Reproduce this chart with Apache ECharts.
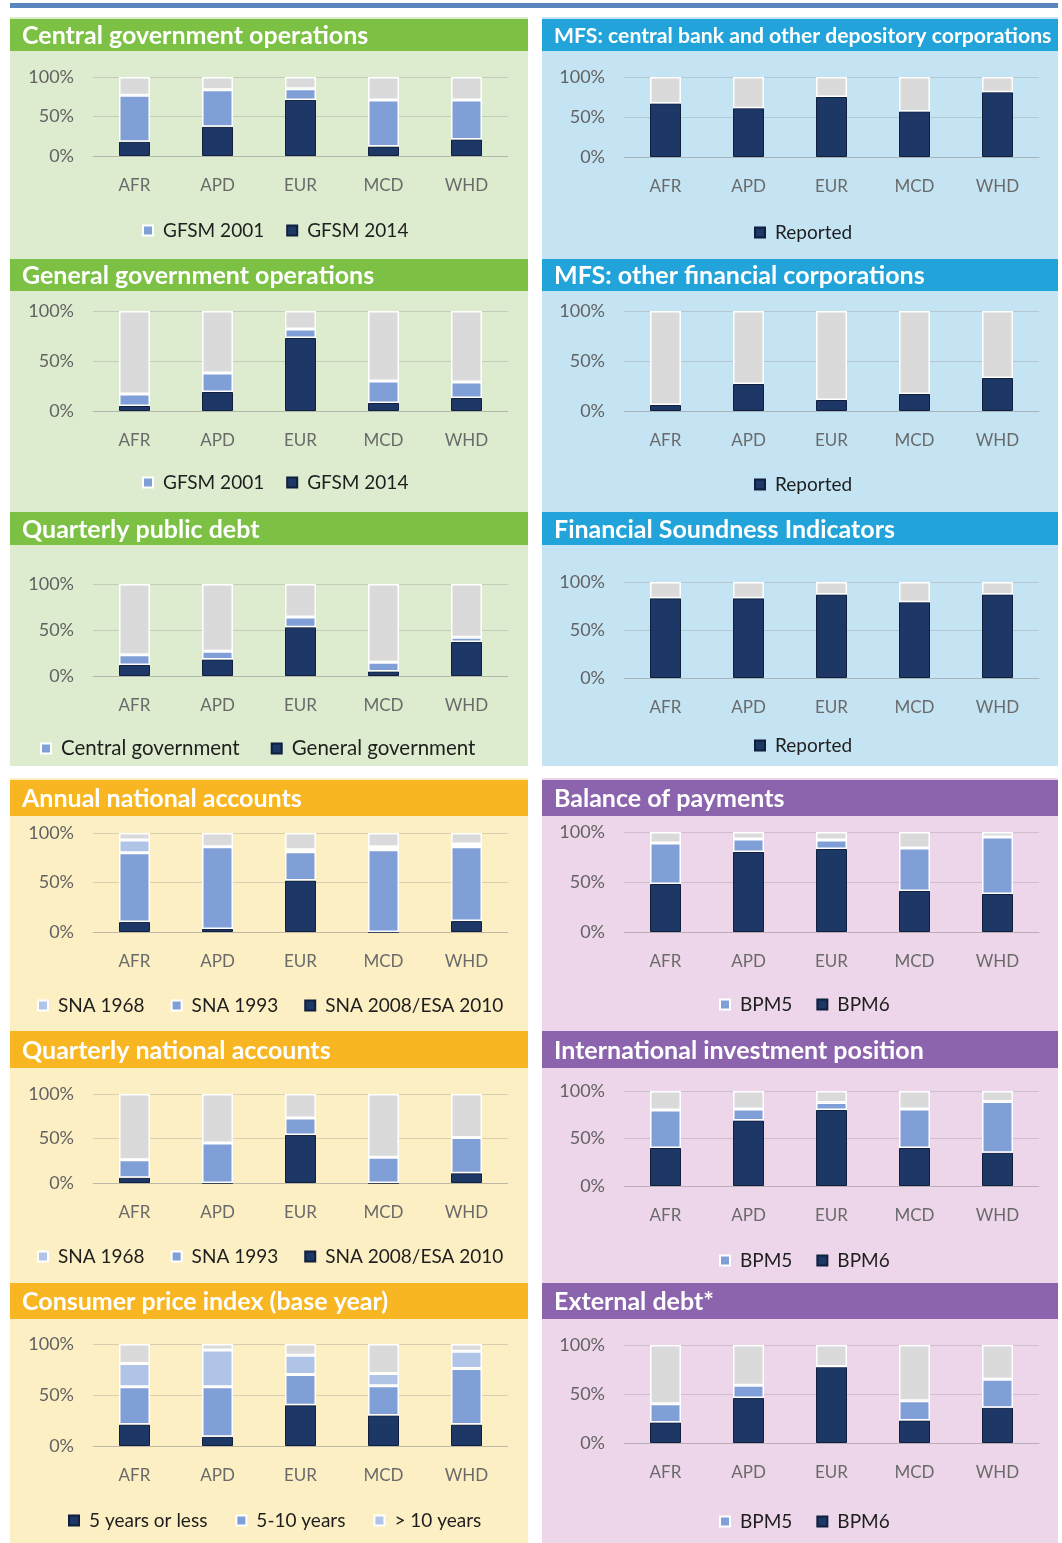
<!DOCTYPE html>
<html lang="en">
<head>
	<meta charset="UTF-8">
	<title>Data reporting by region</title>
	<script src="https://cdn.jsdelivr.net/npm/echarts@6/dist/echarts.min.js"></script>
	<style>
		* {
			margin: 0;
			padding: 0;
		}
		body {
			background: #fff;
		}
		#container {
			width: 1062px;
			height: 1543px;
		}
	</style>
</head>
<body>
<div id="container"></div>
<script type="text/javascript">
	var regions = ['AFR', 'APD', 'EUR', 'MCD', 'WHD'];

	// Central government operations
	var cgoGfsm2014 = [18, 37, 71, 12, 21];
	var cgoGfsm2001 = [59, 47, 14, 59, 50];
	var cgoNone = [23, 16, 15, 29, 29];
	// MFS: central bank and other depository corporations
	var mfsCbReported = [67, 61, 75, 57, 81];
	var mfsCbNone = [33, 39, 25, 43, 19];
	// General government operations
	var ggoGfsm2014 = [5, 19, 73, 8, 13];
	var ggoGfsm2001 = [12, 19, 9, 22, 16];
	var ggoNone = [83, 62, 18, 70, 71];
	// MFS: other financial corporations
	var mfsOfcReported = [6, 27, 11, 17, 33];
	var mfsOfcNone = [94, 73, 89, 83, 67];
	// Quarterly public debt
	var qpdGeneral = [12, 18, 53, 5, 37];
	var qpdCentral = [11, 9, 11, 10, 5];
	var qpdNone = [77, 73, 36, 85, 58];
	// Financial Soundness Indicators
	var fsiReported = [83, 83, 87, 79, 87];
	var fsiNone = [17, 17, 13, 21, 13];
	// Annual national accounts
	var anaSna2008 = [10, 3, 52, 0, 11];
	var anaSna1993 = [70, 83, 29, 83, 75];
	var anaSna1968 = [13, 0, 2, 3, 3];
	var anaNone = [7, 14, 17, 14, 11];
	// Balance of payments
	var bopBpm6 = [48, 80, 83, 41, 38];
	var bopBpm5 = [41, 13, 9, 43, 57];
	var bopNone = [11, 7, 8, 16, 5];
	// Quarterly national accounts
	var qnaSna2008 = [6, 0, 54, 0, 11];
	var qnaSna1993 = [20, 45, 19, 29, 40];
	var qnaSna1968 = [0, 0, 0, 0, 0];
	var qnaNone = [74, 55, 27, 71, 49];
	// International investment position
	var iipBpm6 = [40, 69, 80, 40, 35];
	var iipBpm5 = [40, 12, 8, 41, 54];
	var iipNone = [20, 19, 12, 19, 11];
	// Consumer price index (base year)
	var cpiUpTo5 = [21, 9, 40, 30, 21];
	var cpi5to10 = [37, 49, 30, 29, 55];
	var cpiOver10 = [23, 36, 19, 12, 17];
	var cpiNone = [19, 6, 11, 29, 7];
	// External debt
	var edBpm6 = [21, 46, 78, 23, 36];
	var edBpm5 = [19, 13, 0, 20, 29];
	var edNone = [60, 41, 22, 57, 35];

	var DARK = '#1d3766', MED = '#809fd6', LIGHT = '#b0c4e8', GREY = '#dadada';
	var NONE = 'Not reported';
	var FONT = 'Lato';

	var colors = {
		green: {bg: '#ddecce', head: '#7cc143'},
		blue: {bg: '#c4e4f3', head: '#22a3d9'},
		yellow: {bg: '#fcefc3', head: '#f8b722'},
		purple: {bg: '#edd6ea', head: '#8c64ad'}
	};

	var panels = [
		{title: 'Central government operations', col: 0, hy: 19, hh: 32, top: 77, bottom: 156, lTop: 230, lLeft: 142,
			s: [['GFSM 2014', cgoGfsm2014, DARK], ['GFSM 2001', cgoGfsm2001, MED], [NONE, cgoNone, GREY]], legend: ['GFSM 2001', 'GFSM 2014']},
		{title: 'MFS: central bank and other depository corporations', tSize: 21.2, col: 1, hy: 19, hh: 32, top: 77, bottom: 157, lTop: 232, lLeft: 754,
			s: [['Reported', mfsCbReported, DARK], [NONE, mfsCbNone, GREY]], legend: ['Reported']},
		{title: 'General government operations', col: 0, hy: 259, hh: 32, top: 311, bottom: 411, lTop: 482, lLeft: 142,
			s: [['GFSM 2014', ggoGfsm2014, DARK], ['GFSM 2001', ggoGfsm2001, MED], [NONE, ggoNone, GREY]], legend: ['GFSM 2001', 'GFSM 2014']},
		{title: 'MFS: other financial corporations', col: 1, hy: 259, hh: 32, top: 311, bottom: 411, lTop: 484, lLeft: 754,
			s: [['Reported', mfsOfcReported, DARK], [NONE, mfsOfcNone, GREY]], legend: ['Reported']},
		{title: 'Quarterly public debt', col: 0, hy: 512, hh: 33, top: 584, bottom: 676, lTop: 747, lLeft: 40, lSize: 20.5, lGap: 31,
			s: [['General government', qpdGeneral, DARK], ['Central government', qpdCentral, MED], [NONE, qpdNone, GREY]], legend: ['Central government', 'General government']},
		{title: 'Financial Soundness Indicators', col: 1, hy: 512, hh: 33, top: 582, bottom: 678, lTop: 745, lLeft: 754,
			s: [['Reported', fsiReported, DARK], [NONE, fsiNone, GREY]], legend: ['Reported']},
		{title: 'Annual national accounts', col: 0, hy: 780, hh: 36, top: 833, bottom: 932, lTop: 1005, lLeft: 37, lGap: 26,
			s: [['SNA 2008/ESA 2010', anaSna2008, DARK], ['SNA 1993', anaSna1993, MED], ['SNA 1968', anaSna1968, LIGHT], [NONE, anaNone, GREY]], legend: ['SNA 1968', 'SNA 1993', 'SNA 2008/ESA 2010']},
		{title: 'Balance of payments', col: 1, hy: 780, hh: 36, top: 832, bottom: 932, lTop: 1004, lLeft: 719, lGap: 24,
			s: [['BPM6', bopBpm6, DARK], ['BPM5', bopBpm5, MED], [NONE, bopNone, GREY]], legend: ['BPM5', 'BPM6']},
		{title: 'Quarterly national accounts', col: 0, hy: 1031, hh: 37, top: 1094, bottom: 1183, lTop: 1256, lLeft: 37, lGap: 26,
			s: [['SNA 2008/ESA 2010', qnaSna2008, DARK], ['SNA 1993', qnaSna1993, MED], ['SNA 1968', qnaSna1968, LIGHT], [NONE, qnaNone, GREY]], legend: ['SNA 1968', 'SNA 1993', 'SNA 2008/ESA 2010']},
		{title: 'International investment position', col: 1, hy: 1031, hh: 37, top: 1091, bottom: 1186, lTop: 1260, lLeft: 719, lGap: 24,
			s: [['BPM6', iipBpm6, DARK], ['BPM5', iipBpm5, MED], [NONE, iipNone, GREY]], legend: ['BPM5', 'BPM6']},
		{title: 'Consumer price index (base year)', col: 0, hy: 1283, hh: 36, top: 1344, bottom: 1446, lTop: 1520, lLeft: 68, lGap: 28,
			s: [['5 years or less', cpiUpTo5, DARK], ['5-10 years', cpi5to10, MED], ['> 10 years', cpiOver10, LIGHT], [NONE, cpiNone, GREY]], legend: ['5 years or less', '5-10 years', '> 10 years']},
		{title: 'External debt*', col: 1, hy: 1283, hh: 36, top: 1345, bottom: 1443, lTop: 1521, lLeft: 719, lGap: 24,
			s: [['BPM6', edBpm6, DARK], ['BPM5', edBpm5, MED], [NONE, edNone, GREY]], legend: ['BPM5', 'BPM6']}
	];

	var colX = [10, 542], colW = [518, 516];
	var gridLeft = [93, 624], gridW = 415;

	var graphic = [
		{type: 'rect', shape: {x: 10, y: 3, width: 1048, height: 5}, style: {fill: '#5a86bd'}},
		{type: 'rect', shape: {x: 10, y: 17, width: 518, height: 749}, style: {fill: colors.green.bg}},
		{type: 'rect', shape: {x: 542, y: 17, width: 516, height: 749}, style: {fill: colors.blue.bg}},
		{type: 'rect', shape: {x: 10, y: 778, width: 518, height: 765}, style: {fill: colors.yellow.bg}},
		{type: 'rect', shape: {x: 542, y: 778, width: 516, height: 765}, style: {fill: colors.purple.bg}}
	];
	var grid = [], xAxis = [], yAxis = [], series = [], legend = [];

	for (var i = 0; i < panels.length; i++) {
		var p = panels[i];
		var theme = p.col === 0 ? (p.hy < 770 ? colors.green : colors.yellow) : (p.hy < 770 ? colors.blue : colors.purple);

		graphic.push({type: 'rect', shape: {x: colX[p.col], y: p.hy, width: colW[p.col], height: p.hh}, style: {fill: theme.head}});
		graphic.push({
			type: 'text', x: colX[p.col] + 12, y: p.hy + p.hh / 2 + 1,
			style: {text: p.title, fill: '#fff', font: 'bold ' + (p.tSize || 25) + 'px ' + FONT, verticalAlign: 'middle'}
		});

		grid.push({left: gridLeft[p.col], width: gridW, top: p.top, height: p.bottom - p.top});
		xAxis.push({
			type: 'category', gridIndex: i, data: regions,
			axisTick: {show: false},
			axisLine: {lineStyle: {color: 'rgba(150,150,150,0.4)'}},
			axisLabel: {color: '#6a6a6a', fontSize: 17, fontFamily: FONT, margin: 21}
		});
		yAxis.push({
			type: 'value', gridIndex: i, min: 0, max: 100, interval: 50,
			axisLabel: {formatter: '{value}%', color: '#626262', fontSize: 18, fontFamily: FONT, margin: 19},
			splitLine: {lineStyle: {color: 'rgba(150,150,150,0.35)'}}
		});
		for (var j = 0; j < p.s.length; j++) {
			var c = p.s[j][2];
			series.push({
				name: p.s[j][0], type: 'bar', xAxisIndex: i, yAxisIndex: i, stack: 'st' + i,
				barWidth: 31, data: p.s[j][1],
				itemStyle: {color: c, borderColor: c === DARK ? '#0f1f3d' : '#fff', borderWidth: c === DARK ? 1 : 1.5}
			});
		}
		legend.push({
			left: p.lLeft, top: p.lTop - 9, padding: 0, data: p.legend, icon: 'rect',
			itemWidth: 10, itemHeight: 10, itemGap: p.lGap || 22, selectedMode: false,
			textStyle: {fontSize: p.lSize || 19, color: '#1e1e1e', fontFamily: FONT, padding: [0, 0, 0, 5]}
		});
	}

	var myChart = echarts.init(document.getElementById('container'));
	myChart.setOption({
		animation: false,
		graphic: graphic,
		grid: grid,
		xAxis: xAxis,
		yAxis: yAxis,
		legend: legend,
		series: series
	});
</script>
</body>
</html>
